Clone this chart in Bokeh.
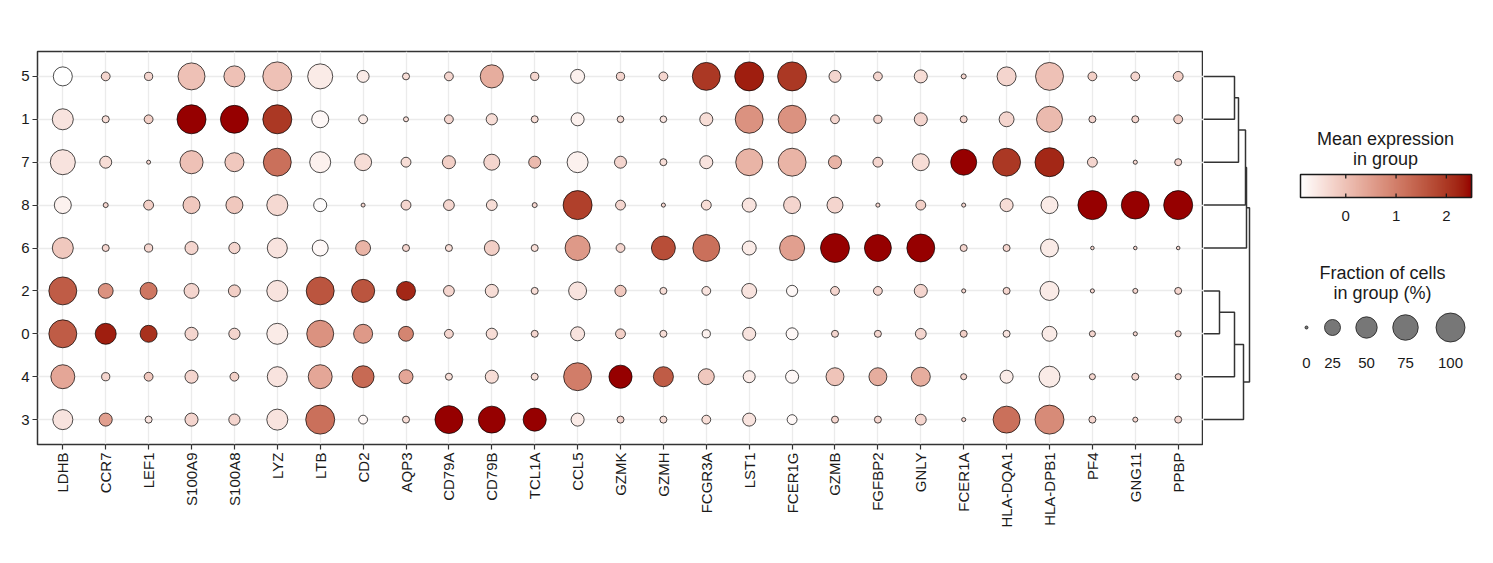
import math
import numpy as np
from bokeh.plotting import figure
from bokeh.models import Range1d, FixedTicker, ColumnDataSource, LinearColorMapper
from bokeh.transform import transform
from bokeh.layouts import row
from bokeh.embed import file_html
from bokeh.resources import INLINE
from bokeh.core.properties import value

# ---------------- data ----------------
genes = ["LDHB", "CCR7", "LEF1", "S100A9", "S100A8", "LYZ", "LTB", "CD2", "AQP3",
         "CD79A", "CD79B", "TCL1A", "CCL5", "GZMK", "GZMH", "FCGR3A", "LST1", "FCER1G",
         "GZMB", "FGFBP2", "GNLY", "FCER1A", "HLA-DQA1", "HLA-DPB1", "PF4", "GNG11", "PPBP"]

groups = ["5", "1", "7", "8", "6", "2", "0", "4", "3"]  # top to bottom

# fraction of cells in group (%)
frac_g5 = [38, 5, 4, 85, 48, 100, 72, 12, 2.4, 5, 60, 4, 18, 4, 5, 92, 100, 100, 12, 5, 15, 0.6, 38, 92, 5, 5, 7]
frac_g1 = [48, 2.5, 5, 100, 92, 100, 29, 5, 0.6, 5, 10, 2.4, 15, 2, 2, 15, 92, 92, 5, 4, 15, 2.4, 21, 78, 2.4, 2.4, 5]
frac_g7 = [72, 12, 0.15, 60, 38, 92, 48, 29, 7, 15, 25, 12, 48, 12, 2.4, 15, 85, 92, 15, 7, 29, 78, 92, 100, 7, 0.2, 2.4]
frac_g8 = [29, 0.6, 7, 29, 29, 48, 15, 0.15, 7, 9, 9, 0.6, 100, 7, 0.2, 7, 18, 29, 25, 0.2, 7, 0.2, 15, 29, 100, 92, 100]
frac_g6 = [48, 2.4, 4, 15, 10, 43, 25, 21, 2.4, 2.4, 21, 2.4, 72, 5, 65, 85, 18, 72, 100, 85, 92, 2.4, 2.4, 33, 0.05, 0.05, 0.05]
frac_g2 = [92, 21, 29, 21, 12, 48, 92, 60, 38, 9, 15, 2.4, 33, 10, 2.4, 5, 21, 10, 5, 5, 15, 0.2, 2.4, 38, 0.2, 0.6, 2.4]
frac_g0 = [92, 48, 29, 15, 10, 48, 85, 38, 21, 5, 10, 2.4, 18, 7, 2.4, 4, 15, 12, 2.4, 2.4, 9, 2.4, 2.4, 21, 1.4, 0.2, 1.4]
frac_g4 = [65, 4, 5, 15, 5, 43, 65, 53, 18, 2.4, 15, 2.4, 92, 60, 43, 25, 12, 15, 33, 33, 38, 1.4, 15, 48, 1.4, 2.4, 1.4]
frac_g3 = [43, 15, 2.4, 15, 10, 48, 100, 5, 2.4, 92, 85, 60, 15, 2.4, 2.4, 5, 15, 7, 2.4, 2.4, 9, 0.2, 85, 100, 2.4, 0.6, 2.4]

# mean expression in group
expr_g5 = [-0.9, -0.3, -0.3, 0.0, 0.0, 0.0, -0.6, -0.6, -0.4, -0.3, 0.3, -0.3, -0.7, -0.3, -0.3, 2.0, 2.3, 2.0, -0.3, -0.3, -0.4, -0.3, -0.3, 0.0, -0.2, -0.3, -0.2]
expr_g1 = [-0.5, -0.4, -0.2, 2.5, 2.5, 2.0, -0.8, -0.6, -0.4, -0.3, -0.4, -0.4, -0.7, -0.4, -0.5, -0.4, 0.7, 0.7, -0.3, -0.3, -0.3, -0.3, -0.3, 0.1, -0.3, -0.3, -0.2]
expr_g7 = [-0.5, -0.4, -0.3, 0.0, -0.1, 1.2, -0.7, -0.4, -0.4, -0.2, -0.3, 0.1, -0.7, -0.3, -0.4, -0.5, 0.2, 0.2, 0.2, -0.3, -0.4, 2.5, 2.0, 2.2, -0.3, -0.3, -0.3]
expr_g8 = [-0.7, -0.3, -0.2, -0.1, -0.1, -0.35, -0.85, -0.3, -0.3, -0.3, -0.4, -0.3, 1.9, -0.3, -0.3, -0.4, -0.5, -0.3, -0.3, -0.3, -0.2, -0.3, -0.4, -0.6, 2.5, 2.5, 2.5]
expr_g6 = [-0.1, -0.3, -0.3, -0.3, -0.3, -0.5, -0.8, 0.2, -0.3, -0.4, -0.2, -0.4, 0.6, -0.3, 1.7, 1.2, -0.6, 0.5, 2.5, 2.5, 2.5, -0.3, -0.3, -0.6, -0.3, -0.3, -0.3]
expr_g2 = [1.5, 0.7, 1.1, -0.3, -0.2, -0.5, 1.6, 1.6, 2.2, -0.3, -0.4, -0.4, -0.5, -0.1, -0.4, -0.5, -0.5, -0.8, -0.3, -0.3, -0.3, -0.3, -0.3, -0.6, -0.3, -0.3, -0.3]
expr_g0 = [1.5, 2.3, 2.1, -0.3, -0.3, -0.6, 0.7, 0.6, 0.9, -0.3, -0.4, -0.3, -0.5, -0.2, -0.4, -0.7, -0.5, -0.8, -0.3, -0.3, -0.3, -0.2, -0.5, -0.6, -0.3, -0.3, -0.3]
expr_g4 = [0.4, -0.3, -0.1, -0.3, -0.2, -0.5, 0.4, 1.3, 0.4, -0.4, -0.4, -0.4, 1.0, 2.5, 1.5, -0.1, -0.6, -0.8, -0.05, 0.3, 0.3, -0.3, -0.6, -0.6, -0.3, -0.3, -0.3]
expr_g3 = [-0.5, 0.5, -0.5, -0.3, -0.3, -0.5, 1.2, -0.8, -0.4, 2.5, 2.5, 2.5, -0.6, -0.3, -0.4, -0.4, -0.5, -0.8, -0.3, -0.3, -0.3, -0.3, 1.2, 0.8, -0.3, -0.3, -0.3]

frac_by_group = {"5": frac_g5, "1": frac_g1, "7": frac_g7, "8": frac_g8, "6": frac_g6,
                 "2": frac_g2, "0": frac_g0, "4": frac_g4, "3": frac_g3}
expr_by_group = {"5": expr_g5, "1": expr_g1, "7": expr_g7, "8": expr_g8, "6": expr_g6,
                 "2": expr_g2, "0": expr_g0, "4": expr_g4, "3": expr_g3}

# dendrogram merges: (node, child_a, child_b, height)
linkage = [
    ("n1", "5", "1", 3.1),
    ("n2", "n1", "7", 3.5),
    ("n3", "n2", "8", 4.2),
    ("n4", "n3", "6", 4.3),
    ("n5", "2", "0", 1.6),
    ("n6", "n5", "4", 3.1),
    ("n7", "n6", "3", 4.0),
    ("n8", "n4", "n7", 4.6),
]

color_ticks = [0, 1, 2]
size_ticks = [0, 25, 50, 75, 100]
vmin, vmax = -0.9, 2.5

FONT = "Liberation Sans"
TXT = "#1a1a1a"

# ---------------- colour palette (Lab interpolation white -> dark red) ----------------
def _lin(c):
    c = c / 255.0
    return c / 12.92 if c <= 0.04045 else ((c + 0.055) / 1.055) ** 2.4

def _delin(c):
    c = 12.92 * c if c <= 0.0031308 else 1.055 * c ** (1 / 2.4) - 0.055
    return int(round(max(0, min(1, c)) * 255))

WP = (0.95047, 1.0, 1.08883)

def rgb2lab(rgb):
    r, g, b = [_lin(v) for v in rgb]
    X = 0.4124 * r + 0.3576 * g + 0.1805 * b
    Y = 0.2126 * r + 0.7152 * g + 0.0722 * b
    Z = 0.0193 * r + 0.1192 * g + 0.9505 * b
    def f(t):
        return t ** (1 / 3) if t > 0.008856 else 7.787 * t + 16 / 116
    fx, fy, fz = f(X / WP[0]), f(Y / WP[1]), f(Z / WP[2])
    return (116 * fy - 16, 500 * (fx - fy), 200 * (fy - fz))

def lab2rgb(lab):
    L, a, b = lab
    fy = (L + 16) / 116
    fx = fy + a / 500
    fz = fy - b / 200
    def finv(t):
        return t ** 3 if t ** 3 > 0.008856 else (t - 16 / 116) / 7.787
    X, Y, Z = WP[0] * finv(fx), WP[1] * finv(fy), WP[2] * finv(fz)
    r = 3.2406 * X - 1.5372 * Y - 0.4986 * Z
    g = -0.9689 * X + 1.8758 * Y + 0.0415 * Z
    bb = 0.0557 * X - 0.2040 * Y + 1.0570 * Z
    return "#%02x%02x%02x" % (_delin(r), _delin(g), _delin(bb))

lo_lab = rgb2lab((255, 255, 255))
hi_lab = rgb2lab((150, 0, 0))
palette = [lab2rgb(tuple(lo_lab[k] + (hi_lab[k] - lo_lab[k]) * t for k in range(3)))
           for t in np.linspace(0, 1, 256)]
mapper = LinearColorMapper(palette=palette, low=vmin, high=vmax)

def dot_size(f):
    return 3 + 2.6 * math.sqrt(f)

# ---------------- layout constants (page pixels) ----------------
H = 548
FT, FB = 51, 444           # frame top / bottom
FL, FR = 37, 1203          # main frame left / right
DW = 55                    # dendrogram width
LX0 = FR + DW              # legend figure left
LW = 1490 - LX0

# ---------------- main dot plot ----------------
ypos = {g: len(groups) - 1 - i for i, g in enumerate(groups)}
xs, ys, sz, ex = [], [], [], []
for g in groups:
    for i, gene in enumerate(genes):
        xs.append(i)
        ys.append(ypos[g])
        sz.append(dot_size(frac_by_group[g][i]))
        ex.append(expr_by_group[g][i])
src = ColumnDataSource(dict(x=xs, y=ys, size=sz, expr=ex))

p = figure(width=FR, height=H, x_range=Range1d(-0.59, len(genes) - 1 + 0.59),
           y_range=Range1d(-0.58, len(groups) - 1 + 0.58), output_backend="svg",
           toolbar_location=None, title=None, min_border_left=FL, min_border_right=0,
           min_border_top=FT, min_border_bottom=H - FB)
p.background_fill_color = "white"
p.border_fill_color = "white"
p.outline_line_color = "#333333"
p.outline_line_width = 1.5

p.xaxis.ticker = FixedTicker(ticks=list(range(len(genes))))
p.xaxis.major_label_overrides = {i: g for i, g in enumerate(genes)}
p.xaxis.major_label_orientation = math.pi / 2
p.yaxis.ticker = FixedTicker(ticks=list(range(len(groups))))
p.yaxis.major_label_overrides = {ypos[g]: g for g in groups}
for ax in (p.xaxis, p.yaxis):
    ax.axis_line_color = None
    ax.major_tick_line_color = "#333333"
    ax.major_tick_line_width = 1.2
    ax.major_tick_out = 5
    ax.major_tick_in = 0
    ax.minor_tick_line_color = None
    ax.major_label_text_font = FONT
    ax.major_label_text_font_size = "15px"
    ax.major_label_text_color = TXT
    ax.major_label_standoff = 3
p.xgrid.ticker = FixedTicker(ticks=list(range(len(genes))))
p.ygrid.ticker = FixedTicker(ticks=list(range(len(groups))))
p.grid.grid_line_color = "#ebebeb"
p.grid.grid_line_width = 1.3

p.scatter("x", "y", size="size", source=src, marker="circle",
          fill_color=transform("expr", mapper), line_color="black", line_width=0.7)

# ---------------- dendrogram ----------------
node_y = dict(ypos)
node_h = {g: 0.0 for g in groups}
dxs, dys = [], []
for node, a, b, h in linkage:
    dxs.append([node_h[a], h, h, node_h[b]])
    dys.append([node_y[a], node_y[a], node_y[b], node_y[b]])
    node_y[node] = (node_y[a] + node_y[b]) / 2
    node_h[node] = h

d = figure(width=DW, height=H, x_range=Range1d(0, 5.5), y_range=p.y_range,
           output_backend="svg", toolbar_location=None, title=None,
           x_axis_location=None, y_axis_location=None,
           min_border_left=0, min_border_right=0, min_border_top=FT, min_border_bottom=H - FB)
d.grid.visible = False
d.outline_line_color = None
d.multi_line(dxs, dys, line_color="#333333", line_width=1.5)

# ---------------- legends (coordinates are page pixels) ----------------
lg = figure(width=LW, height=H, x_range=Range1d(LX0, LX0 + LW), y_range=Range1d(FB, FT),
            output_backend="svg", toolbar_location=None, title=None,
            x_axis_location=None, y_axis_location=None,
            min_border_left=0, min_border_right=0, min_border_top=FT, min_border_bottom=H - FB)
lg.grid.visible = False
lg.outline_line_color = None

bx0, bx1, by0, by1 = 1300, 1471, 174, 197

def vx(v):
    return bx0 + (v - vmin) / (vmax - vmin) * (bx1 - bx0)

nseg = 171
vals = np.linspace(vmin, vmax, nseg + 1)
bar_src = ColumnDataSource(dict(
    left=[vx(v) for v in vals[:-1]],
    right=[vx(v) + 0.7 for v in vals[1:]],
    v=list((vals[:-1] + vals[1:]) / 2)))
lg.quad(left="left", right="right", top=by0, bottom=by1, source=bar_src,
        fill_color=transform("v", mapper), line_color=None)
lg.quad(left=[bx0], right=[bx1], top=[by0], bottom=[by1], fill_color=None,
        line_color="#1a1a1a", line_width=1.5)
tx = [vx(t) for t in color_ticks]
lg.segment(x0=tx, x1=tx, y0=[by0] * 3, y1=[by0 + 4] * 3, line_color="#1a1a1a", line_width=1.3)
lg.segment(x0=tx, x1=tx, y0=[by1] * 3, y1=[by1 - 4] * 3, line_color="#1a1a1a", line_width=1.3)

def ltext(xv, yv, texts, size):
    lg.text(x=xv, y=yv, text=texts, text_font=value(FONT), text_font_size=value(size),
            text_align="center", text_baseline="middle", text_color=TXT)

ltext(tx, [215] * 3, [str(t) for t in color_ticks], "15px")
ltext([1385, 1385], [138, 158], ["Mean expression", "in group"], "18px")
ltext([1382, 1382], [272, 292], ["Fraction of cells", "in group (%)"], "18px")

sx = [1306, 1332, 1366, 1405, 1450]
lg.scatter(x=sx, y=[327] * 5, size=[dot_size(f) for f in size_ticks], marker="circle",
           fill_color="#777777", line_color="#1a1a1a", line_width=0.8)
ltext(sx, [362] * 5, [str(s) for s in size_ticks], "15px")

layout = row(p, d, lg)
open("out.html", "w").write(file_html(layout, INLINE))
